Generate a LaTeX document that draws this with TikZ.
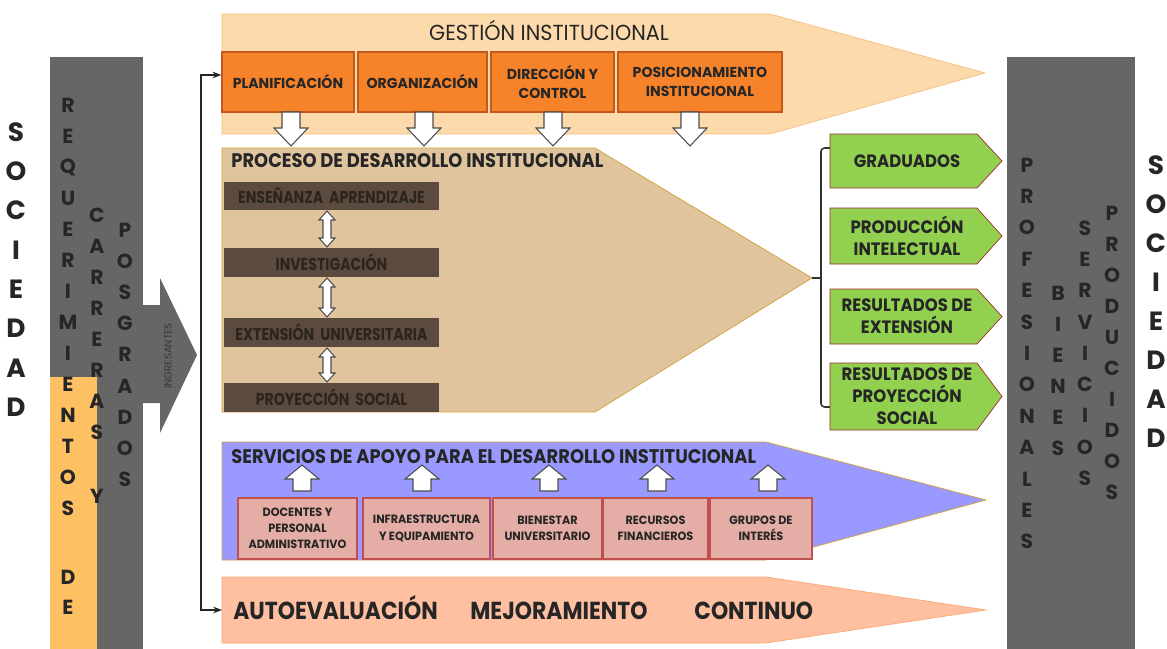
\documentclass[tikz,border=0pt]{standalone}
\usepackage{fontspec}
\setmainfont{Poppins}
\usetikzlibrary{arrows.meta}

\definecolor{texto}{HTML}{262626}
\definecolor{gris}{HTML}{666666}
\definecolor{naranjaclaro}{HTML}{FDC163}
\definecolor{durazno}{HTML}{FDDAAB}
\definecolor{duraznoborde}{HTML}{F4BE80}
\definecolor{naranja}{HTML}{F6832A}
\definecolor{naranjaborde}{HTML}{C4581B}
\definecolor{arena}{HTML}{E0C49D}
\definecolor{dorado}{HTML}{D2A33A}
\definecolor{cafe}{HTML}{5A4B3E}
\definecolor{cafetexto}{HTML}{2C241D}
\definecolor{verde}{HTML}{92D050}
\definecolor{vino}{HTML}{A22B2B}
\definecolor{lila}{HTML}{9999FF}
\definecolor{rosa}{HTML}{E4ADA5}
\definecolor{rojizo}{HTML}{C0504D}
\definecolor{salmon}{HTML}{FFC0A1}
\definecolor{salmonborde}{HTML}{F8A872}

\newcommand{\angosta}[1]{\addfontfeatures{FakeStretch=#1}}

\tikzset{
  letra/.style={text=texto, inner sep=0pt, font=\bfseries\fontsize{11.6}{13}\selectfont},
  letragrande/.style={text=texto, inner sep=0pt, font=\bfseries\fontsize{15}{17}\selectfont},
  titulo/.style={text=texto, inner sep=0pt, anchor=west, font=\bfseries\fontsize{11.2}{13}\selectfont\angosta{0.91}},
  caja/.style={draw=naranjaborde, fill=naranja, line width=0.8pt, minimum height=1.2cm,
    align=center, text=texto, inner sep=1pt, font=\bfseries\fontsize{8.2}{10.8}\selectfont\angosta{0.98}},
  eje/.style={fill=cafe, minimum width=4.3cm, minimum height=0.57cm, inner sep=0pt,
    text=cafetexto, font=\bfseries\fontsize{9.8}{11}\selectfont\angosta{0.82}},
  resultado/.style={align=center, text=texto, inner sep=0pt, font=\bfseries\fontsize{10.2}{12.5}\selectfont\angosta{0.92}},
  apoyo/.style={draw=rojizo, fill=rosa, line width=0.8pt, minimum height=1.22cm,
    align=center, text=texto, inner sep=1pt, font=\bfseries\fontsize{6.8}{9.2}\selectfont\angosta{0.94}},
  mejora/.style={text=texto, inner sep=0pt, anchor=base west, font=\bfseries\fontsize{14}{15}\selectfont\angosta{0.89}},
  flecha/.style={draw=black!70, fill=white, line width=0.6pt},
  linea/.style={draw=black!80, line width=0.9pt}
}

\begin{document}
\begin{tikzpicture}[x=0.02cm,y=-0.02cm]
\useasboundingbox (0,0) rectangle (1167,649);

% barras laterales
\fill[gris] (50,57) rectangle (143,649);
\fill[gris] (143,305) -- (160,305) -- (160,278) -- (197,355) -- (160,433) -- (160,403) -- (143,403) -- cycle;
\fill[naranjaclaro] (50,377) rectangle (97,649);
\fill[gris] (1007,57) rectangle (1135,649);
\node[rotate=90, inner sep=0pt, text=black!78, font=\fontsize{5.8}{6}\selectfont] (ingresantes) at (168,356) {INGRESANTES};

% letras verticales izquierda
\foreach \l [count=\i] in {S,O,C,I,E,D,A,D}
  \node[letragrande] (soc\i) at (16,{132+39.3*(\i-1)}) {\l};
\foreach \l [count=\i] in {R,E,Q,U,E,R,I,M,I,E,N,T,O,S}
  \node[letra] (req\i) at (68,{105+31*(\i-1)}) {\l};
\node[letra] (reqD) at (68,577) {D};
\node[letra] (reqE) at (68,607) {E};
\foreach \l [count=\i] in {C,A,R,R,E,R,A,S}
  \node[letra] (car\i) at (97,{215+31*(\i-1)}) {\l};
\node[letra] (carY) at (97,496) {Y};
\foreach \l [count=\i] in {P,O,S,G,R,A,D,O,S}
  \node[letra] (pos\i) at (125,{230+31.2*(\i-1)}) {\l};

% letras verticales derecha
\foreach \l [count=\i] in {P,R,O,F,E,S,I,O,N,A,L,E,S}
  \node[letra] (prof\i) at (1027,{165+31.4*(\i-1)}) {\l};
\foreach \l [count=\i] in {B,I,E,N,E,S}
  \node[letra] (bien\i) at (1058,{293+31*(\i-1)}) {\l};
\foreach \l [count=\i] in {S,E,R,V,I,C,I,O,S}
  \node[letra] (serv\i) at (1085,{228+31.3*(\i-1)}) {\l};
\foreach \l [count=\i] in {P,R,O,D,U,C,I,D,O,S}
  \node[letra] (prod\i) at (1112,{213+31*(\i-1)}) {\l};
\foreach \l [count=\i] in {S,O,C,I,E,D,A,D}
  \node[letragrande] (socd\i) at (1156,{165+39*(\i-1)}) {\l};

% gestion institucional
\draw[duraznoborde, fill=durazno] (222,14) -- (770,14) -- (985,73) -- (770,134) -- (222,134) -- cycle;
\node[text=texto, inner sep=0pt, font=\fontsize{12.4}{14}\selectfont\angosta{0.95}] (gestion) at (549,30) {GESTIÓN INSTITUCIONAL};
\node[caja, minimum width=2.64cm] (plan) at (288,82) {PLANIFICACIÓN};
\node[caja, minimum width=2.58cm] (org) at (422.5,82) {ORGANIZACIÓN};
\node[caja, minimum width=2.46cm] (dir) at (552.5,82) {DIRECCIÓN Y\\CONTROL};
\node[caja, minimum width=3.28cm] (posic) at (700,82) {POSICIONAMIENTO\\INSTITUCIONAL};
\foreach \x in {291,424,553,690}
  \draw[flecha] (\x-9,112) -- (\x+9,112) -- (\x+9,128) -- (\x+17,128) -- (\x,146) -- (\x-17,128) -- (\x-9,128) -- cycle;

% proceso de desarrollo
\draw[dorado, fill=arena] (222,148) -- (595,148) -- (812,278) -- (595,412) -- (222,412) -- cycle;
\coordinate (proc-tip) at (812,278);
\node[titulo] (proceso) at (231,161) {PROCESO DE DESARROLLO INSTITUCIONAL};
\node[eje] (ense) at (331.5,196) {ENSEÑANZA\ \ APRENDIZAJE};
\node[eje] (inv) at (331.5,262.5) {INVESTIGACIÓN};
\node[eje] (ext) at (331.5,332.5) {EXTENSIÓN\ \ UNIVERSITARIA};
\node[eje] (proy) at (331.5,397.5) {PROYECCIÓN\ \ SOCIAL};
\foreach \ya/\yb in {211/247, 278/317, 348/382}
  \draw[flecha] (327,\ya) -- (335,\ya+9) -- (331,\ya+9) -- (331,\yb-9) -- (335,\yb-9) -- (327,\yb)
    -- (319,\yb-9) -- (323,\yb-9) -- (323,\ya+9) -- (319,\ya+9) -- cycle;

% resultados
\coordinate (llave) at (821,278);
\coordinate (grad-in) at (830,148);
\coordinate (rproy-in) at (830,407);
\draw[linea] (proc-tip) -- (llave);
\draw[linea, rounded corners=2pt] (grad-in) -- (821,148) -- (821,407) -- (rproy-in);
\foreach \ya/\yb in {134/188, 208/264, 289/344, 363/430}
  \draw[vino, fill=verde] (830,\ya) -- (977,\ya) -- (1002,{(\ya+\yb)/2}) -- (977,\yb) -- (830,\yb) -- cycle;
\node[resultado] (grad) at (907,161) {GRADUADOS};
\node[resultado] (intel) at (907,236) {PRODUCCIÓN\\INTELECTUAL};
\node[resultado] (rext) at (907,316.5) {RESULTADOS DE\\EXTENSIÓN};
\node[resultado] (rproy) at (907,396.5) {RESULTADOS DE\\PROYECCIÓN\\SOCIAL};

% servicios de apoyo
\draw[dorado, fill=lila] (222,442) -- (766,442) -- (986,500) -- (766,560) -- (222,560) -- cycle;
\node[titulo] (servicios) at (231,457) {SERVICIOS DE APOYO PARA EL DESARROLLO INSTITUCIONAL};
\foreach \x in {302,422,549,657,768}
  \draw[flecha] (\x,465) -- (\x+17,479) -- (\x+9,479) -- (\x+9,491) -- (\x-9,491) -- (\x-9,479) -- (\x-17,479) -- cycle;
\node[apoyo, minimum width=2.38cm] (docentes) at (297.5,528.5) {DOCENTES Y\\PERSONAL\\ADMINISTRATIVO};
\node[apoyo, minimum width=2.54cm] (infra) at (426.5,528.5) {INFRAESTRUCTURA\\Y EQUIPAMIENTO};
\node[apoyo, minimum width=2.18cm] (bienestar) at (547.5,528.5) {BIENESTAR\\UNIVERSITARIO};
\node[apoyo, minimum width=2.10cm] (recursos) at (655.5,528.5) {RECURSOS\\FINANCIEROS};
\node[apoyo, minimum width=2.04cm] (grupos) at (761,528.5) {GRUPOS DE\\INTERÉS};

% autoevaluacion
\draw[salmonborde, fill=salmon] (222,577) -- (766,577) -- (986,610) -- (766,643) -- (222,643) -- cycle;
\coordinate (auto-in) at (222,610);
\node[mejora] (autoev) at (233,619) {AUTOEVALUACIÓN};
\node[mejora] (mejor) at (470,619) {MEJORAMIENTO};
\node[mejora] (contin) at (694,619) {CONTINUO};

% retroalimentacion
\draw[black!85, line width=0.7pt, {Stealth[length=5pt]}-{Stealth[length=5pt]}]
  ([yshift=4pt]plan.west) -| (201,340) |- (auto-in);
\end{tikzpicture}
\end{document}
